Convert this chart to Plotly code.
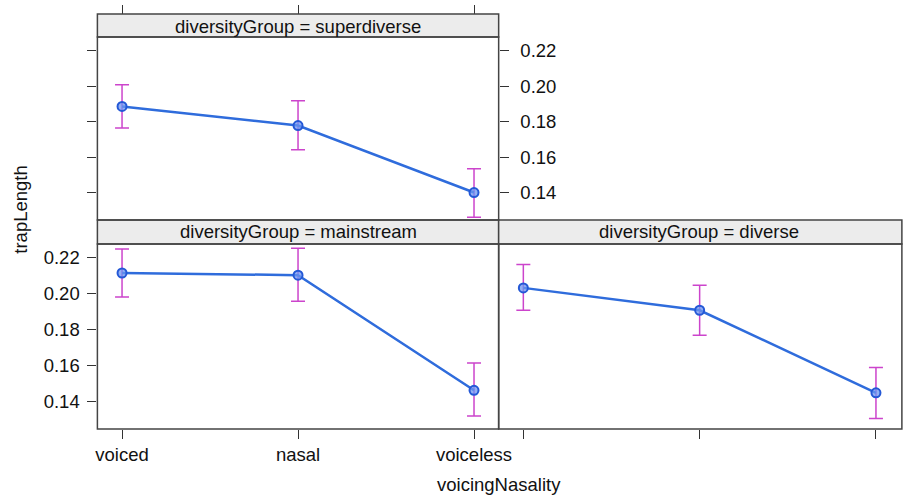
import plotly.graph_objects as go

categories = ["voiced", "nasal", "voiceless"]
x_pos = [1, 2, 3]
y_ticks = [0.14, 0.16, 0.18, 0.20, 0.22]
y_tick_text = ["0.14", "0.16", "0.18", "0.20", "0.22"]

super_fit = [0.1886, 0.1778, 0.1400]
super_upper = [0.2008, 0.1918, 0.1534]
super_lower = [0.1764, 0.1641, 0.1261]

main_fit = [0.2116, 0.2104, 0.1461]
main_upper = [0.2250, 0.2254, 0.1613]
main_lower = [0.1982, 0.1958, 0.1318]

div_fit = [0.2033, 0.1908, 0.1447]
div_upper = [0.2163, 0.2048, 0.1589]
div_lower = [0.1908, 0.1768, 0.1304]

W, H = 908, 497
FONT = "Liberation Sans, Arial, sans-serif"
FS = 18.5
LINE_C = "#2f6cdc"
ERR_C = "#cc44cc"
BORDER = "#444444"
STRIP = "#ececec"

def px_x(p):
    return p / W

def px_y(p):
    return 1 - p / H

left_dom = [px_x(97), px_x(505)]
right_dom = [px_x(505), 1.0]
top_dom = [px_y(220), px_y(37)]
bot_dom = [px_y(429), px_y(244)]

xr_left = [0.86, 3.14]
xr_right = [0.86, 3.108]
yr = [0.1245, 0.2278]

fig = go.Figure()

def add_panel(fit, up, lo, xa, ya):
    fig.add_trace(go.Scatter(
        x=x_pos, y=fit, xaxis=xa, yaxis=ya, mode="lines+markers",
        line=dict(color=LINE_C, width=2.5),
        marker=dict(symbol="circle", size=9, color="rgba(110,150,240,0.75)",
                    line=dict(color="#2458d6", width=2)),
        error_y=dict(type="data", symmetric=False,
                     array=[u - f for u, f in zip(up, fit)],
                     arrayminus=[f - l for f, l in zip(fit, lo)],
                     color=ERR_C, thickness=1.5, width=7),
        showlegend=False, hoverinfo="skip"))

add_panel(super_fit, super_upper, super_lower, "x", "y")
add_panel(main_fit, main_upper, main_lower, "x2", "y2")
add_panel(div_fit, div_upper, div_lower, "x3", "y3")
# invisible trace for the right-side labelled axis of the top panel
fig.add_trace(go.Scatter(x=[None], y=[None], xaxis="x", yaxis="y4",
                         showlegend=False, hoverinfo="skip"))

tickfont = dict(family=FONT, size=FS, color="#111")
common_x = dict(tickvals=x_pos, ticktext=categories, ticks="outside", ticklen=9,
                tickwidth=1, tickcolor="#333", showgrid=False, zeroline=False,
                showline=False, tickfont=tickfont, fixedrange=True)
common_y = dict(tickvals=y_ticks, ticktext=y_tick_text, ticks="outside", ticklen=9,
                tickwidth=1, tickcolor="#333", showgrid=False, zeroline=False,
                showline=False, tickfont=tickfont, range=yr, fixedrange=True)

fig.update_layout(
    width=W, height=H, margin=dict(l=0, r=0, t=0, b=0),
    paper_bgcolor="white", plot_bgcolor="white",
    font=dict(family=FONT, size=FS, color="#111"),
    xaxis=dict(common_x, domain=left_dom, range=xr_left, anchor="free",
               position=px_y(14), side="top", showticklabels=False),
    yaxis=dict(common_y, domain=top_dom, anchor="x", showticklabels=False),
    yaxis4=dict(common_y, overlaying="y", side="right", anchor="x",
                showticklabels=True, ticklabelstandoff=8),
    xaxis2=dict(common_x, domain=left_dom, range=xr_left, anchor="y2",
                showticklabels=True),
    yaxis2=dict(common_y, domain=bot_dom, anchor="x2", showticklabels=True,
                ticklabelstandoff=4),
    xaxis3=dict(common_x, domain=right_dom, range=xr_right, anchor="y3",
                showticklabels=False),
    yaxis3=dict(common_y, domain=bot_dom, anchor="x3", showticklabels=False,
                ticks=""),
)

shapes = []
def rect(x0, y0, x1, y1, fill=None, lw=1.5):
    shapes.append(dict(type="rect", xref="paper", yref="paper",
                       x0=px_x(x0), x1=px_x(x1), y0=px_y(y1), y1=px_y(y0),
                       fillcolor=fill if fill else "rgba(0,0,0,0)",
                       line=dict(color=BORDER, width=lw), layer="above"))

# strips
rect(97, 14, 505, 37, STRIP)
rect(97, 220, 505, 244, STRIP)
rect(505, 220, 915, 244, STRIP)
# panel borders
rect(97, 37, 505, 220)
rect(97, 244, 505, 429)
rect(505, 244, 915, 429)
fig.update_layout(shapes=shapes)

ann = []
def text(x, y, s, **kw):
    d = dict(xref="paper", yref="paper", x=px_x(x), y=px_y(y), text=s,
             showarrow=False, font=dict(family=FONT, size=FS, color="#111"),
             xanchor="center", yanchor="middle")
    d.update(kw)
    ann.append(d)

text(301, 26, "diversityGroup = superdiverse")
text(301, 232, "diversityGroup = mainstream")
text(709, 232, "diversityGroup = diverse")
text(505, 484, "voicingNasality")
text(18, 210, "trapLength", textangle=-90)
fig.update_layout(annotations=ann)

fig.write_html("out.html")
